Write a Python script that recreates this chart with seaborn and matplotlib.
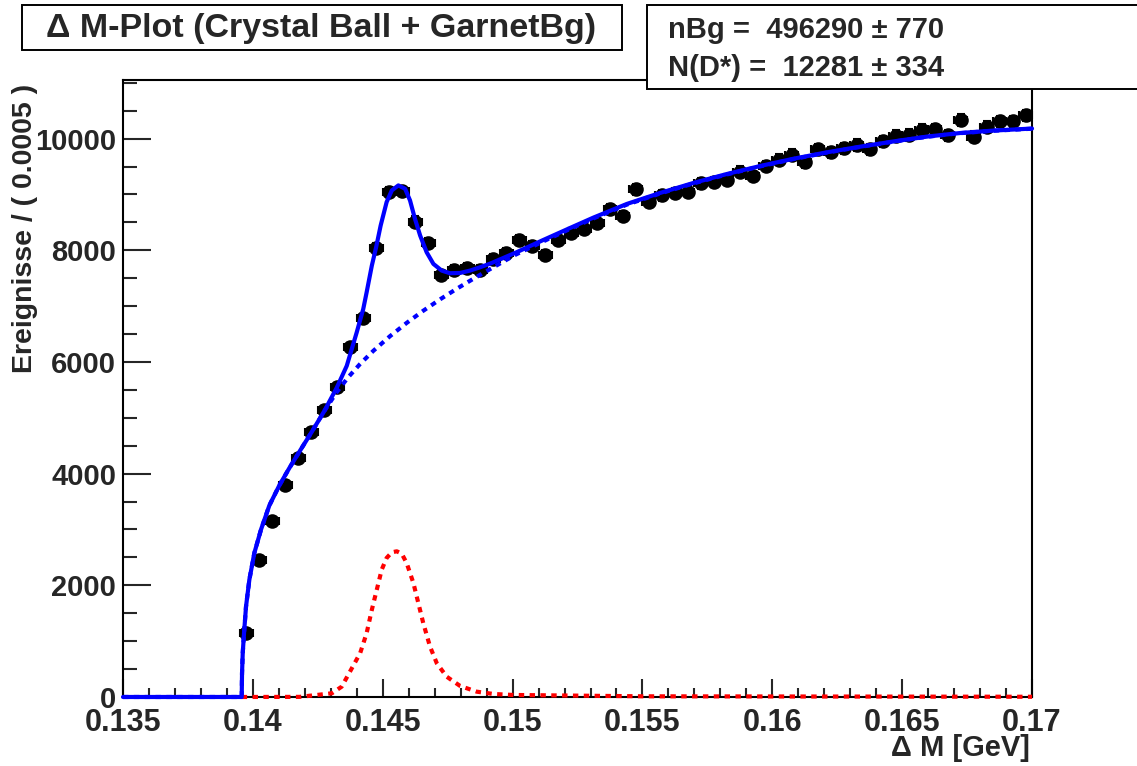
import numpy as np
import pandas as pd
import seaborn as sns
import matplotlib.pyplot as plt
from matplotlib.patches import Rectangle
from matplotlib.ticker import MultipleLocator

sns.set_style("ticks")
plt.rcParams['font.family'] = ['Liberation Sans Narrow', 'Liberation Sans', 'DejaVu Sans']
plt.rcParams['font.weight'] = 'bold'

# histogram: 0.0005 wide bins, first filled bin starts at 0.1395
bin_lo = 0.1395
bin_width = 0.0005
counts = [1154, 2451, 3158, 3792, 4283, 4744, 5133, 5552, 6265, 6784,
          8032, 9041, 9063, 8515, 8133, 7563, 7642, 7686, 7642, 7851,
          7960, 8190, 8068, 7916, 8183, 8306, 8378, 8493, 8738, 8609,
          9092, 8861, 8983, 9027, 9048, 9200, 9221, 9265, 9409, 9330,
          9510, 9625, 9712, 9575, 9805, 9755, 9827, 9885, 9813, 9950,
          10050, 10065, 10159, 10166, 10058, 10332, 10036, 10216, 10310, 10310,
          10418]

# total fit curve (Crystal Ball + Garnet background)
total_x = [0.1350, 0.13957, 0.139582, 0.139609, 0.139659, 0.139736, 0.139864, 0.140057,
           0.140314, 0.140634, 0.141019, 0.141404, 0.141854, 0.14227, 0.14275, 0.14323,
           0.143614, 0.143998, 0.14425, 0.14438, 0.14458, 0.14474, 0.14492, 0.14515,
           0.14535, 0.14560, 0.14586, 0.14605, 0.14624, 0.14644, 0.14669, 0.14695,
           0.14727, 0.14759, 0.14798, 0.14836, 0.14875, 0.14913, 0.15013, 0.15116,
           0.15219, 0.15311, 0.15440, 0.15568, 0.15697, 0.15825, 0.15954, 0.16082,
           0.16211, 0.16339, 0.16468, 0.16596, 0.16725, 0.16853, 0.1700]
total_y = [0, 0, 425, 785, 1144, 1621, 2100, 2580,
           3000, 3430, 3790, 4100, 4440, 4750, 5120, 5540,
           5930, 6530, 6950, 7248, 7726, 8043, 8444, 8864,
           9072, 9162, 9102, 8893, 8564, 8264, 7965, 7756,
           7636, 7589, 7594, 7636, 7696, 7760, 7960, 8180,
           8395, 8585, 8830, 9027, 9207, 9366, 9510, 9640,
           9755, 9856, 9950, 10036, 10101, 10144, 10180]

# background component (dotted blue)
bg_x = [0.1350, 0.13957, 0.139582, 0.139609, 0.139659, 0.139736, 0.139864, 0.140057,
        0.140314, 0.140634, 0.141019, 0.141404, 0.141854, 0.14227, 0.14275, 0.14323,
        0.14368, 0.14413, 0.14464, 0.14528, 0.14592, 0.14656, 0.14721, 0.14785,
        0.14849, 0.14894, 0.15013, 0.15116, 0.15219, 0.15311, 0.15440, 0.15568,
        0.15697, 0.15825, 0.15954, 0.16082, 0.16211, 0.16339, 0.16468, 0.16596,
        0.16725, 0.16853, 0.1700]
bg_y = [0, 0, 425, 785, 1144, 1621, 2100, 2580,
        3000, 3430, 3790, 4100, 4440, 4750, 5120, 5461,
        5731, 5965, 6200, 6462, 6699, 6917, 7122, 7311,
        7490, 7612, 7925, 8155, 8378, 8570, 8818, 9017,
        9198, 9358, 9503, 9634, 9750, 9852, 9947, 10033,
        10098, 10141, 10177]

# signal component (dashed red)
sig_x = [0.13957, 0.1418, 0.14304, 0.14342, 0.14381, 0.14413, 0.14438, 0.14458,
         0.14477, 0.14496, 0.14515, 0.14535, 0.14554, 0.14573, 0.14592, 0.14618,
         0.14637, 0.14656, 0.14682, 0.14708, 0.14746, 0.14798, 0.14862, 0.14926,
         0.15003, 0.1550, 0.1700]
sig_y = [0, 2, 66, 185, 515, 785, 1144, 1562,
         1921, 2280, 2490, 2591, 2609, 2567, 2400, 2041,
         1682, 1323, 903, 605, 364, 197, 95, 54,
         36, 12, 4]

title = "\u0394 M-Plot (Crystal Ball + GarnetBg)"
stat_lines = ["nBg =  496290 \u00b1 770", "N(D*) =  12281 \u00b1 334"]

centers = bin_lo + bin_width * (np.arange(len(counts)) + 0.5)
df = pd.DataFrame({"dm": centers, "n": counts})

fig = plt.figure(figsize=(11.37, 7.66), dpi=100)
ax = fig.add_axes([0.1082, 0.0901, 0.7995, 0.8055])

# data points with errors
ax.errorbar(df["dm"], df["n"], xerr=bin_width / 2, yerr=np.sqrt(df["n"]),
            fmt='none', ecolor='black', elinewidth=1.5, capsize=3, capthick=1.5, zorder=3)
sns.scatterplot(data=df, x="dm", y="n", ax=ax, color='black', s=110,
                edgecolor='black', linewidth=0, zorder=4)

sns.lineplot(x=bg_x, y=bg_y, ax=ax, color='blue', linewidth=3, sort=False,
             estimator=None, zorder=5)
ax.lines[-1].set_linestyle((0, (1.3, 1.3)))
sns.lineplot(x=sig_x, y=sig_y, ax=ax, color='red', linewidth=3, sort=False,
             estimator=None, zorder=5)
ax.lines[-1].set_linestyle((0, (1.3, 1.3)))
sns.lineplot(x=total_x, y=total_y, ax=ax, color='blue', linewidth=3, sort=False,
             estimator=None, zorder=6)
for ln in ax.lines:
    ln.set_clip_on(False)

ax.set_xlim(0.135, 0.17)
ax.set_ylim(0, 11050)
ax.xaxis.set_minor_locator(MultipleLocator(0.001))
ax.yaxis.set_major_locator(MultipleLocator(2000))
ax.yaxis.set_minor_locator(MultipleLocator(500))
ax.set_xticks([0.135, 0.14, 0.145, 0.15, 0.155, 0.16, 0.165, 0.17])
ax.set_xticklabels(["0.135", "0.14", "0.145", "0.15", "0.155", "0.16", "0.165", "0.17"])
ax.tick_params(axis='x', which='major', direction='in', length=13, width=1.5,
               labelsize=22, pad=8, top=False)
ax.tick_params(axis='x', which='minor', direction='in', length=6.5, width=1.5, top=False)
ax.tick_params(axis='y', which='major', direction='in', length=20, width=1.5,
               labelsize=21, pad=5, right=False)
ax.tick_params(axis='y', which='minor', direction='in', length=10, width=1.5, right=False)
for s in ax.spines.values():
    s.set_linewidth(1.5)
    s.set_color('black')
ax.set_xlabel("")
ax.set_ylabel("")

fig.text(25 / 1137, 1 - 84 / 766, "Ereignisse / ( 0.0005 )", rotation=90,
         ha='center', va='top', fontsize=20.5, fontweight='bold')
fig.text(1030 / 1137, 1 - 748 / 766, "\u0394 M [GeV]", ha='right', va='center',
         fontsize=21, fontweight='bold')

# title box
fig.patches.append(Rectangle((22 / 1137, 1 - 50 / 766), 600 / 1137, 45 / 766,
                             transform=fig.transFigure, facecolor='white',
                             edgecolor='black', linewidth=1.4, zorder=10))
fig.text(321 / 1137, 1 - 29 / 766, title, ha='center', va='center',
         fontsize=24.5, fontweight='bold', zorder=11)

# stats box
fig.patches.append(Rectangle((647 / 1137, 1 - 89 / 766), 0.5, 84 / 766,
                             transform=fig.transFigure, facecolor='white',
                             edgecolor='black', linewidth=1.4, zorder=10))
fig.text(668 / 1137, 1 - 30 / 766, stat_lines[0], ha='left', va='center',
         fontsize=21, fontweight='bold', zorder=11)
fig.text(668 / 1137, 1 - 68 / 766, stat_lines[1], ha='left', va='center',
         fontsize=21, fontweight='bold', zorder=11)

fig.savefig("out.png", dpi=100)
